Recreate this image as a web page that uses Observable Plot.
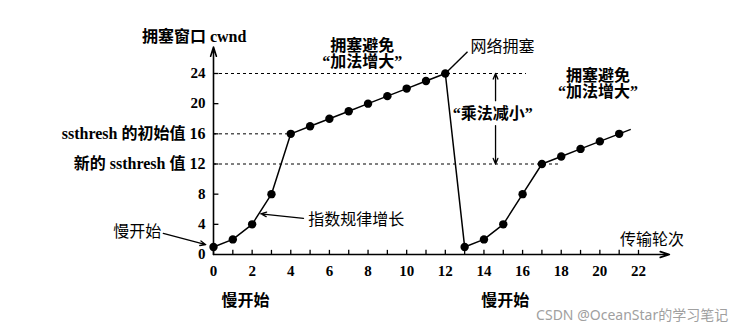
<!DOCTYPE html>
<html><head><meta charset="utf-8">
<script src="https://cdn.jsdelivr.net/npm/d3@7"></script>
<script src="https://cdn.jsdelivr.net/npm/@observablehq/plot@0.6"></script>
<style>body{margin:0;background:#fff}</style>
</head><body><div id="chart"></div>
<script>
const rounds = [0,1,2,3,4,5,6,7,8,9,10,11,12,13,14,15,16,17,18,19,20,21];
const cwnd   = [1,2,4,8,16,17,18,19,20,21,22,23,24,1,2,4,8,12,13,14,15,16];
const xTicks = d3.range(0, 23);
const xTickLabels = [0,2,4,6,8,10,12,14,16,18,20,22];
const yTicks = [0,4,8,12,16,20,24];
const yTickLabels = ["0","4","8","新的 ssthresh 值 12","ssthresh 的初始值 16","20","24"];
const thresholds = [{y:24, x2:16.2},{y:16, x2:4},{y:12, x2:18}];
const boldLabels = [
  {x:-1.0, y:28.8, t:"拥塞窗口 cwnd", a:"middle"},
  {x:7.7, y:27.7, t:"拥塞避免", a:"middle"},
  {x:7.7, y:25.5, t:"“加法增大”", a:"middle"},
  {x:19.9, y:23.7, t:"拥塞避免", a:"middle"},
  {x:19.9, y:21.5, t:"“加法增大”", a:"middle"},
  {x:14.45, y:18.7, t:"“乘法减小”", a:"middle"},
  {x:1.66, y:-6.1, t:"慢开始", a:"middle"},
  {x:15.1, y:-6.1, t:"慢开始", a:"middle"}
];
const plainLabels = [
  {x:13.3, y:27.5, t:"网络拥塞", a:"start"},
  {x:-2.7, y:3.0, t:"慢开始", a:"end"},
  {x:4.9, y:4.6, t:"指数规律增长", a:"start"},
  {x:22.7, y:2.0, t:"传输轮次", a:"middle"}
];
const plainPointers = [
  {x1:12, y1:24, x2:13.15, y2:26.9},
  {x1:21, y1:16, x2:21.6, y2:16.6}
];
const headPointers = [
  {x1:-2.6, y1:2.8, x2:-0.4, y2:1.3},
  {x1:4.66, y1:4.8, x2:2.45, y2:5.4},
  {x1:14.6, y1:20.4, x2:14.6, y2:24},
  {x1:14.6, y1:17.1, x2:14.6, y2:12}
];
const axes = [{x1:0, y1:0, x2:23.6, y2:0},{x1:0, y1:0, x2:0, y2:27.5}];
const data = rounds.map((r,i)=>({r, c:cwnd[i]}));
const yl = yTicks.map((v,i)=>({v, t:yTickLabels[i], long:yTickLabels[i].length>3}));
const font = "'Liberation Serif','Noto Sans CJK SC',serif";

const chart = Plot.plot({
  width: 736, height: 330,
  marginLeft: 213, marginRight: 98, marginTop: 73, marginBottom: 76,
  x: {domain:[0,22], axis:null},
  y: {domain:[0,24], axis:null},
  style: {fontFamily: font, background:"#fff", color:"#000"},
  marks: [
    Plot.ruleY(thresholds, {y:"y", x1:0, x2:"x2", stroke:"#000", strokeWidth:1, strokeDasharray:"3,3"}),
    Plot.arrow(axes, {x1:"x1", y1:"y1", x2:"x2", y2:"y2", stroke:"#000", strokeWidth:1.6, headLength:9, headAngle:35}),
    Plot.ruleX(xTicks, {x:d=>d, y1:0, y2:0.55, stroke:"#000", strokeWidth:1.3}),
    Plot.ruleY(yTicks.slice(1), {y:d=>d, x1:0, x2:0.28, stroke:"#000", strokeWidth:1.3}),
    Plot.text(xTickLabels, {x:d=>d, y:0, dy:17, text:d=>String(d), fontSize:15, fontWeight:"bold", fill:"#000"}),
    Plot.text(yl.filter(d=>!d.long), {x:0, y:"v", dx:-8, text:"t", textAnchor:"end", fontSize:15, fontWeight:"bold", fill:"#000"}),
    Plot.text(yl.filter(d=>d.long), {x:0, y:"v", dx:-8, text:"t", textAnchor:"end", fontSize:16, fontWeight:"bold", fill:"#000"}),
    Plot.link(plainPointers, {x1:"x1", y1:"y1", x2:"x2", y2:"y2", stroke:"#000", strokeWidth:1.4}),
    Plot.arrow(headPointers, {x1:"x1", y1:"y1", x2:"x2", y2:"y2", stroke:"#000", strokeWidth:1.3, headLength:7, headAngle:45}),
    Plot.line(data, {x:"r", y:"c", stroke:"#000", strokeWidth:1.5}),
    Plot.dot(data, {x:"r", y:"c", r:4.2, fill:"#000"}),
    Plot.text(boldLabels, {x:"x", y:"y", text:"t", textAnchor:"middle", fontWeight:"bold", fontSize:16, fill:"#000"}),
    Plot.text(plainLabels.filter(d=>d.a==="start"), {x:"x", y:"y", text:"t", textAnchor:"start", fontSize:16, fill:"#000"}),
    Plot.text(plainLabels.filter(d=>d.a==="end"), {x:"x", y:"y", text:"t", textAnchor:"end", fontSize:16, fill:"#000"}),
    Plot.text(plainLabels.filter(d=>d.a==="middle"), {x:"x", y:"y", text:"t", textAnchor:"middle", fontSize:16, fill:"#000"}),
    Plot.text(["CSDN @OceanStar的学习笔记"], {x:16.7, y:-8.1, text:d=>d, textAnchor:"start", fontSize:14, fill:"#a0a0a0", fontFamily:"'Noto Sans','Noto Sans CJK SC',sans-serif"})
  ]
});
document.getElementById("chart").appendChild(chart);
</script>
</body></html>
